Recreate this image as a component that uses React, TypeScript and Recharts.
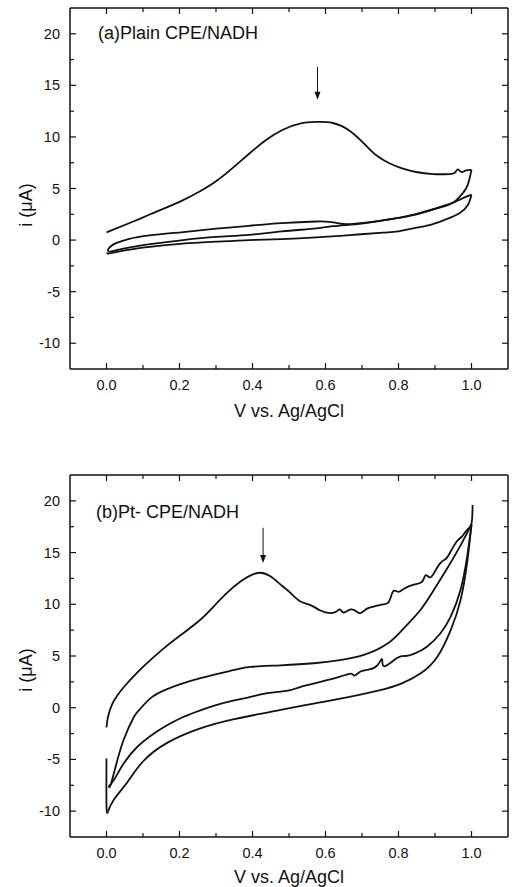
import { LineChart, Line, XAxis, YAxis, ReferenceLine, ReferenceDot } from 'recharts';

type Pt = { v: number; i: number };

// axis ticks
const xTicks = [0, 0.1, 0.2, 0.3, 0.4, 0.5, 0.6, 0.7, 0.8, 0.9, 1.0];
const xLabelled = [0, 0.2, 0.4, 0.6, 0.8, 1.0];
const yTicks = [-10, -7.5, -5, -2.5, 0, 2.5, 5, 7.5, 10, 12.5, 15, 17.5, 20];
const yLabelled = [-10, -5, 0, 5, 10, 15, 20];

// (a) plain CPE / NADH
const aScan1Forward: Pt[] = [
  { v: 0.0, i: 0.75 }, { v: 0.07, i: 1.75 }, { v: 0.12, i: 2.5 }, { v: 0.2, i: 3.7 },
  { v: 0.255, i: 4.7 }, { v: 0.3, i: 5.7 }, { v: 0.346, i: 7.0 }, { v: 0.39, i: 8.35 },
  { v: 0.437, i: 9.7 }, { v: 0.483, i: 10.7 }, { v: 0.53, i: 11.3 }, { v: 0.575, i: 11.45 },
  { v: 0.62, i: 11.35 }, { v: 0.666, i: 10.6 }, { v: 0.71, i: 9.2 }, { v: 0.74, i: 8.2 },
  { v: 0.775, i: 7.45 }, { v: 0.81, i: 6.95 }, { v: 0.848, i: 6.6 }, { v: 0.894, i: 6.4 },
  { v: 0.94, i: 6.4 }, { v: 0.955, i: 6.55 }, { v: 0.963, i: 6.85 }, { v: 0.972, i: 6.6 },
  { v: 0.985, i: 6.75 }, { v: 1.0, i: 6.8 },
];
const aScan1Reverse: Pt[] = [
  { v: 1.0, i: 6.8 }, { v: 0.995, i: 6.0 }, { v: 0.985, i: 5.0 }, { v: 0.965, i: 4.1 },
  { v: 0.94, i: 3.45 }, { v: 0.89, i: 2.9 }, { v: 0.85, i: 2.5 }, { v: 0.8, i: 2.15 },
  { v: 0.757, i: 1.9 }, { v: 0.7, i: 1.6 }, { v: 0.62, i: 1.35 }, { v: 0.575, i: 1.13 },
  { v: 0.48, i: 0.84 }, { v: 0.39, i: 0.5 }, { v: 0.3, i: 0.3 }, { v: 0.21, i: 0.0 },
  { v: 0.12, i: -0.4 }, { v: 0.05, i: -0.8 }, { v: 0.008, i: -1.15 },
];
const aScan2Forward: Pt[] = [
  { v: 0.008, i: -1.15 }, { v: 0.004, i: -0.95 }, { v: 0.012, i: -0.6 }, { v: 0.026, i: -0.3 },
  { v: 0.06, i: 0.1 }, { v: 0.118, i: 0.45 }, { v: 0.21, i: 0.78 }, { v: 0.3, i: 1.1 },
  { v: 0.39, i: 1.38 }, { v: 0.48, i: 1.65 }, { v: 0.575, i: 1.8 }, { v: 0.61, i: 1.77 },
  { v: 0.64, i: 1.6 }, { v: 0.67, i: 1.55 }, { v: 0.757, i: 1.9 }, { v: 0.85, i: 2.55 },
  { v: 0.94, i: 3.5 }, { v: 0.97, i: 3.95 }, { v: 1.0, i: 4.4 },
];
const aScan2Reverse: Pt[] = [
  { v: 1.0, i: 4.4 }, { v: 0.99, i: 3.4 }, { v: 0.967, i: 2.6 }, { v: 0.93, i: 2.0 },
  { v: 0.89, i: 1.5 }, { v: 0.85, i: 1.2 }, { v: 0.8, i: 0.85 }, { v: 0.757, i: 0.72 },
  { v: 0.666, i: 0.48 }, { v: 0.575, i: 0.26 }, { v: 0.48, i: 0.1 }, { v: 0.39, i: 0.0 },
  { v: 0.3, i: -0.16 }, { v: 0.209, i: -0.35 }, { v: 0.118, i: -0.65 }, { v: 0.05, i: -1.0 },
  { v: 0.008, i: -1.3 }, { v: 0.003, i: -1.2 },
];

// (b) Pt-CPE / NADH
const bScan1Forward: Pt[] = [
  { v: 0.0, i: -1.9 }, { v: 0.004, i: -0.9 }, { v: 0.015, i: 0.3 }, { v: 0.03, i: 1.2 },
  { v: 0.05, i: 2.1 }, { v: 0.084, i: 3.4 }, { v: 0.12, i: 4.6 }, { v: 0.166, i: 6.0 },
  { v: 0.21, i: 7.2 }, { v: 0.257, i: 8.5 }, { v: 0.294, i: 9.8 }, { v: 0.33, i: 11.1 },
  { v: 0.367, i: 12.2 }, { v: 0.395, i: 12.8 }, { v: 0.422, i: 13.05 }, { v: 0.449, i: 12.7 },
  { v: 0.477, i: 11.9 }, { v: 0.504, i: 11.1 }, { v: 0.53, i: 10.3 }, { v: 0.56, i: 9.9 },
  { v: 0.586, i: 9.4 }, { v: 0.613, i: 9.15 }, { v: 0.63, i: 9.3 }, { v: 0.64, i: 9.5 },
  { v: 0.65, i: 9.2 }, { v: 0.669, i: 9.5 }, { v: 0.685, i: 9.3 }, { v: 0.696, i: 9.15 },
  { v: 0.71, i: 9.5 }, { v: 0.723, i: 9.7 }, { v: 0.75, i: 9.95 }, { v: 0.77, i: 10.1 },
  { v: 0.778, i: 10.6 }, { v: 0.787, i: 11.3 }, { v: 0.8, i: 11.2 }, { v: 0.815, i: 11.5 },
  { v: 0.842, i: 11.9 }, { v: 0.865, i: 12.2 }, { v: 0.874, i: 12.8 }, { v: 0.885, i: 12.6 },
  { v: 0.897, i: 13.0 }, { v: 0.915, i: 14.0 }, { v: 0.93, i: 14.4 }, { v: 0.943, i: 15.1 },
  { v: 0.96, i: 16.1 }, { v: 0.975, i: 16.6 }, { v: 0.988, i: 17.2 }, { v: 1.0, i: 17.8 },
  { v: 1.003, i: 19.6 },
];
const bScan1Reverse: Pt[] = [
  { v: 1.0, i: 17.7 }, { v: 0.985, i: 16.7 }, { v: 0.97, i: 15.7 }, { v: 0.934, i: 13.5 },
  { v: 0.897, i: 11.4 }, { v: 0.86, i: 9.45 }, { v: 0.815, i: 7.7 }, { v: 0.77, i: 6.2 },
  { v: 0.705, i: 5.1 }, { v: 0.64, i: 4.6 }, { v: 0.568, i: 4.3 }, { v: 0.477, i: 4.1 },
  { v: 0.395, i: 3.95 }, { v: 0.35, i: 3.65 }, { v: 0.257, i: 2.85 }, { v: 0.166, i: 1.8 },
  { v: 0.12, i: 0.9 }, { v: 0.09, i: -0.2 }, { v: 0.075, i: -0.9 }, { v: 0.047, i: -3.1 },
  { v: 0.025, i: -5.7 }, { v: 0.011, i: -7.5 }, { v: 0.006, i: -7.6 },
];
const bScan2Forward: Pt[] = [
  { v: 0.006, i: -7.6 }, { v: 0.02, i: -7.0 }, { v: 0.047, i: -5.4 }, { v: 0.084, i: -3.8 },
  { v: 0.13, i: -2.5 }, { v: 0.166, i: -1.7 }, { v: 0.21, i: -0.9 }, { v: 0.257, i: -0.25 },
  { v: 0.3, i: 0.25 }, { v: 0.35, i: 0.7 }, { v: 0.395, i: 1.05 }, { v: 0.44, i: 1.4 },
  { v: 0.477, i: 1.55 }, { v: 0.504, i: 1.7 }, { v: 0.53, i: 2.0 }, { v: 0.586, i: 2.5 },
  { v: 0.64, i: 3.0 }, { v: 0.67, i: 3.3 }, { v: 0.68, i: 3.1 }, { v: 0.696, i: 3.5 },
  { v: 0.72, i: 3.7 }, { v: 0.742, i: 4.1 }, { v: 0.755, i: 4.7 }, { v: 0.761, i: 4.0 },
  { v: 0.796, i: 4.8 }, { v: 0.82, i: 5.0 }, { v: 0.842, i: 5.2 }, { v: 0.878, i: 5.9 },
  { v: 0.915, i: 7.2 }, { v: 0.943, i: 8.8 }, { v: 0.97, i: 11.4 }, { v: 0.988, i: 14.6 },
  { v: 1.0, i: 17.7 },
];
const bScan2Reverse: Pt[] = [
  { v: 1.0, i: 17.7 }, { v: 0.988, i: 14.0 }, { v: 0.97, i: 10.4 }, { v: 0.943, i: 7.5 },
  { v: 0.906, i: 4.9 }, { v: 0.86, i: 3.3 }, { v: 0.806, i: 2.3 }, { v: 0.75, i: 1.7 },
  { v: 0.659, i: 1.0 }, { v: 0.568, i: 0.4 }, { v: 0.477, i: -0.2 }, { v: 0.44, i: -0.48 },
  { v: 0.35, i: -1.1 }, { v: 0.257, i: -2.0 }, { v: 0.166, i: -3.4 }, { v: 0.1, i: -5.2 },
  { v: 0.057, i: -7.2 }, { v: 0.02, i: -8.9 }, { v: 0.004, i: -10.05 },
];
const bRestart: Pt[] = [
  { v: 0.004, i: -10.05 }, { v: 0.0, i: -9.5 }, { v: 0.0, i: -4.9 },
];

const FONT = '"Liberation Sans", Arial, Helvetica, sans-serif';
const INK = '#111';

const has = (list: number[], val: number) => list.some((m) => Math.abs(m - val) < 1e-6);

function BottomTick({ x, y, payload }: any) {
  const major = has(xLabelled, payload.value);
  return (
    <g>
      <line x1={x} x2={x} y1={y} y2={y - (major ? 6 : 4)} stroke={INK} strokeWidth={1.2} />
      {major && (
        <text x={x} y={y + 21} textAnchor="middle" fontSize={14.5} fontFamily={FONT} fill={INK}>
          {payload.value.toFixed(1)}
        </text>
      )}
    </g>
  );
}

function TopTick({ x, y, payload }: any) {
  const major = has(xLabelled, payload.value);
  return <line x1={x} x2={x} y1={y} y2={y + (major ? 6 : 4)} stroke={INK} strokeWidth={1.2} />;
}

function LeftTick({ x, y, payload }: any) {
  const major = has(yLabelled, payload.value);
  return (
    <g>
      <line x1={x} x2={x + (major ? 6 : 4)} y1={y} y2={y} stroke={INK} strokeWidth={1.2} />
      {major && (
        <text x={x - 10} y={y + 5} textAnchor="end" fontSize={14.5} fontFamily={FONT} fill={INK}>
          {payload.value}
        </text>
      )}
    </g>
  );
}

function RightTick({ x, y, payload }: any) {
  const major = has(yLabelled, payload.value);
  return <line x1={x} x2={x - (major ? 6 : 4)} y1={y} y2={y} stroke={INK} strokeWidth={1.2} />;
}

const arrowHead = (props: any) => {
  const { cx, cy } = props;
  return <polygon points={`${cx - 3},${cy - 8} ${cx + 3},${cy - 8} ${cx},${cy}`} fill={INK} />;
};

type PanelProps = {
  top: number;
  height: number;
  marginTop: number;
  xAxisHeight: number;
  scans: Pt[][];
  arrowV: number;
  arrowFrom: number;
  arrowTo: number;
};

function Panel({ top, height, marginTop, xAxisHeight, scans, arrowV, arrowFrom, arrowTo }: PanelProps) {
  return (
    <div style={{ position: 'absolute', left: 0, top }}>
      <LineChart width={512} height={height} margin={{ top: marginTop - 1, right: 3, bottom: 0, left: 0 }}>
        <XAxis
          dataKey="v"
          type="number"
          domain={[-0.1, 1.1]}
          allowDataOverflow
          ticks={xTicks}
          interval={0}
          tickSize={0}
          tickMargin={0}
          tickLine={false}
          tick={<BottomTick />}
          height={xAxisHeight}
          axisLine={{ stroke: INK, strokeWidth: 1.5 }}
        />
        <XAxis
          xAxisId="top"
          orientation="top"
          dataKey="v"
          type="number"
          domain={[-0.1, 1.1]}
          allowDataOverflow
          ticks={xTicks}
          interval={0}
          tickSize={0}
          tickMargin={0}
          tickLine={false}
          tick={<TopTick />}
          height={1}
          axisLine={{ stroke: INK, strokeWidth: 1.5 }}
        />
        <YAxis
          type="number"
          domain={[-12.5, 22.5]}
          allowDataOverflow
          ticks={yTicks}
          interval={0}
          tickSize={0}
          tickMargin={0}
          tickLine={false}
          tick={<LeftTick />}
          width={70}
          axisLine={{ stroke: INK, strokeWidth: 1.5 }}
        />
        <YAxis
          yAxisId="right"
          orientation="right"
          type="number"
          domain={[-12.5, 22.5]}
          allowDataOverflow
          ticks={yTicks}
          interval={0}
          tickSize={0}
          tickMargin={0}
          tickLine={false}
          tick={<RightTick />}
          width={1}
          axisLine={{ stroke: INK, strokeWidth: 1.5 }}
        />
        {scans.map((scan, k) => (
          <Line
            key={k}
            data={scan}
            dataKey="i"
            type="natural"
            stroke={INK}
            strokeWidth={1.8}
            dot={false}
            activeDot={false}
            isAnimationActive={false}
          />
        ))}
        <ReferenceLine
          segment={[
            { x: arrowV, y: arrowFrom },
            { x: arrowV, y: arrowTo + 0.7 },
          ]}
          stroke={INK}
          strokeWidth={1}
        />
        <ReferenceDot x={arrowV} y={arrowTo} r={3} shape={arrowHead} />
      </LineChart>
    </div>
  );
}

const textStyle = {
  position: 'absolute' as const,
  fontFamily: FONT,
  color: INK,
  whiteSpace: 'nowrap' as const,
  lineHeight: 1,
};

function Caption({ text, cx, cy, size, rotate = false }: { text: string; cx: number; cy: number; size: number; rotate?: boolean }) {
  return (
    <div
      style={{
        ...textStyle,
        left: cx,
        top: cy,
        fontSize: size,
        transform: `translate(-50%, -50%)${rotate ? ' rotate(-90deg)' : ''}`,
      }}
    >
      {text}
    </div>
  );
}

export default function App() {
  return (
    <div style={{ position: 'absolute', left: 0, top: 0, width: 512, height: 887, overflow: 'hidden', background: '#fff' }}>
      <Panel
        top={0}
        height={440}
        marginTop={8}
        xAxisHeight={71}
        scans={[aScan1Forward, aScan1Reverse, aScan2Forward, aScan2Reverse]}
        arrowV={0.578}
        arrowFrom={16.8}
        arrowTo={13.6}
      />
      <Panel
        top={440}
        height={447}
        marginTop={35}
        xAxisHeight={50}
        scans={[bScan1Forward, bScan1Reverse, bScan2Forward, bScan2Reverse, bRestart]}
        arrowV={0.429}
        arrowFrom={17.4}
        arrowTo={14.0}
      />
      <div style={{ ...textStyle, left: 98, top: 24, fontSize: 18 }}>(a)Plain CPE/NADH</div>
      <div style={{ ...textStyle, left: 96, top: 503, fontSize: 18 }}>(b)Pt- CPE/NADH</div>
      <Caption text="V vs. Ag/AgCl" cx={289} cy={411} size={18} />
      <Caption text="V vs. Ag/AgCl" cx={289} cy={877} size={18} />
      <Caption text="i (μA)" cx={26} cy={205} size={18} rotate />
      <Caption text="i (μA)" cx={26} cy={670} size={18} rotate />
    </div>
  );
}
